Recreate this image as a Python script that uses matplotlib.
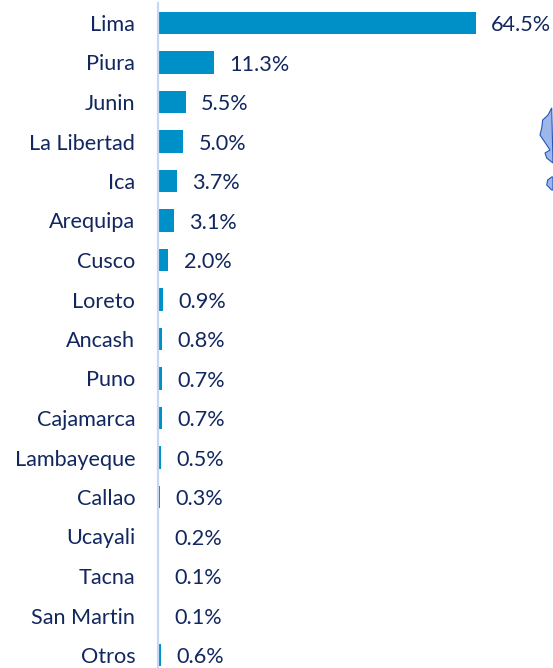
import matplotlib
matplotlib.use("Agg")
import matplotlib.pyplot as plt
from matplotlib.patches import Polygon

regions = ["Lima", "Piura", "Junin", "La Libertad", "Ica", "Arequipa", "Cusco", "Loreto",
           "Ancash", "Puno", "Cajamarca", "Lambayeque", "Callao", "Ucayali", "Tacna",
           "San Martin", "Otros"]
shares = [64.5, 11.3, 5.5, 5.0, 3.7, 3.1, 2.0, 0.9, 0.8, 0.7, 0.7, 0.5, 0.3, 0.2, 0.1, 0.1, 0.6]

BAR = "#0090C8"
TEXT = "#12275F"
W, H = 553, 668
plt.rcParams["font.family"] = ["Lato", "DejaVu Sans"]

fig = plt.figure(figsize=(W / 100, H / 100), dpi=100)
left, top, bottom = 157.5, 3, 668
ax = fig.add_axes([left / W, 0, (W - left) / W, (H - top) / H])
ax.patch.set_alpha(0)
ax.barh(range(len(regions)), shares, height=0.58, color=BAR, left=0.2)
ax.set_xlim(0, (W - left) / 4.92)
ax.set_ylim((bottom - 23) / 39.5, (top - 23) / 39.5)
ax.set_yticks(range(len(regions)), regions, fontsize=15.6, color=TEXT)
ax.tick_params(axis="y", length=0, pad=16)
ax.set_xticks([])
for s in ("top", "right", "bottom"):
    ax.spines[s].set_visible(False)
ax.spines["left"].set_color("#C5D8F5")
ax.spines["left"].set_linewidth(1.6)
for i, v in enumerate(shares):
    ax.annotate(f"{v:.1f}%", (v + 0.2, i), xytext=(11, -1.5), textcoords="offset points",
                va="center", ha="left", fontsize=15.6, color=TEXT, clip_on=False)

def to_fig(pts):
    return [(x / W, 1 - y / H) for x, y in pts]

map_main = [(551.7, 108), (548, 115), (542.7, 120), (541.7, 128), (540, 135), (546.7, 145),
            (550, 150), (545, 153), (546.7, 158), (553, 163)]
map_small = [(551.7, 177), (547.7, 180), (546.7, 185), (551.7, 190), (553, 190), (553, 177)]
for pts in (map_main, map_small):
    fig.add_artist(Polygon(to_fig(pts), closed=True, transform=fig.transFigure,
                           facecolor="#9DB7E8", edgecolor="#2455BE", linewidth=0.8))
fig.savefig("out.png", dpi=100)
